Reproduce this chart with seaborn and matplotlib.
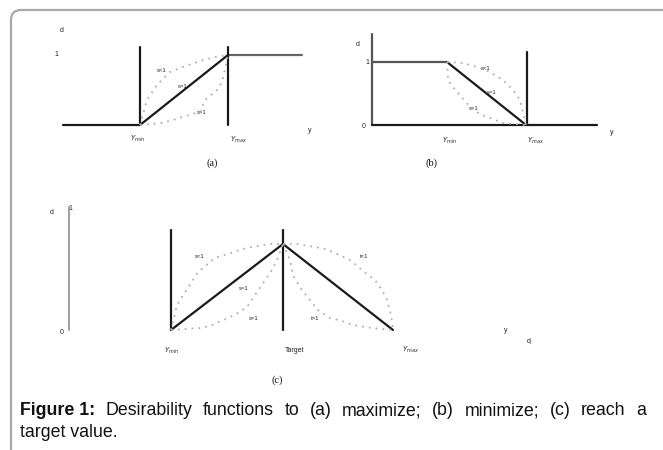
import matplotlib
matplotlib.use("Agg")
import matplotlib.pyplot as plt
from matplotlib.patches import FancyBboxPatch
import seaborn as sns

# ---- desirability curves: response value y, desirability d ----
# (a) maximize
a_low_x, a_low_d = [0.0, 3.5], [0.0, 0.0]
a_lin_x, a_lin_d = [3.5, 7.5], [0.0, 1.0]
a_top_x, a_top_d = [7.5, 10.86], [1.0, 1.0]
a_bounds = [3.5, 7.5]
a_conc_x = [3.5, 3.82, 4.27, 4.86, 5.45, 6.23, 6.91, 7.5]
a_conc_d = [0.0, 0.357, 0.571, 0.757, 0.829, 0.914, 0.971, 1.0]
a_conv_x = [3.5, 4.5, 5.0, 5.41, 6.23, 6.45, 7.0, 7.23, 7.5]
a_conv_d = [0.0, 0.029, 0.071, 0.114, 0.186, 0.357, 0.5, 0.614, 1.0]

# (b) minimize
b_top_x, b_top_d = [0.0, 3.75], [1.0, 1.0]
b_lin_x, b_lin_d = [3.75, 7.7], [1.0, 0.0]
b_axis_x = [0.0, 11.25]
b_bound = 7.75
b_conc_x = [3.75, 4.55, 5.25, 5.9, 6.55, 7.05, 7.4, 7.55, 7.7]
b_conc_d = [1.0, 0.984, 0.921, 0.841, 0.714, 0.556, 0.397, 0.19, 0.0]
b_conv_x = [3.75, 3.8, 4.0, 5.0, 5.5, 6.55, 7.7]
b_conv_d = [1.0, 0.714, 0.619, 0.254, 0.159, 0.032, 0.0]

# (c) target value
c_left_x, c_left_d = [0.0, 5.6], [0.0, 1.0]
c_right_x, c_right_d = [5.6, 11.1], [1.0, 0.0]
c_bounds = [0.0, 5.6]
c_lu_x = [0.0, 0.3, 0.55, 1.1, 1.35, 2.2, 3.6, 4.05, 4.95, 5.6]
c_lu_d = [0.0, 0.291, 0.384, 0.581, 0.674, 0.837, 0.942, 0.965, 1.0, 1.0]
c_ll_x = [0.0, 1.45, 1.95, 2.95, 3.35, 3.8, 4.1, 5.05, 5.3, 5.6]
c_ll_d = [0.0, 0.023, 0.047, 0.151, 0.198, 0.267, 0.372, 0.698, 0.814, 1.0]
c_ru_x = [5.6, 6.3, 7.2, 7.7, 8.3, 8.95, 9.85, 10.2, 10.55, 10.8, 11.0, 11.1]
c_ru_d = [1.0, 1.0, 0.965, 0.942, 0.884, 0.814, 0.640, 0.581, 0.465, 0.349, 0.174, 0.0]
c_rl_x = [5.6, 5.95, 6.1, 6.3, 6.55, 6.95, 7.35, 7.95, 8.55, 8.8, 9.35, 10.05, 11.1]
c_rl_d = [1.0, 0.814, 0.640, 0.558, 0.465, 0.349, 0.233, 0.140, 0.105, 0.081, 0.047, 0.023, 0.0]
c_scale_x = -5.1

sns.set_theme(style="white")
plt.rcParams["font.family"] = ["Liberation Sans", "DejaVu Sans"]

W, H = 663, 450
fig = plt.figure(figsize=(W / 100, H / 100), dpi=100)

# full-figure canvas in pixel units for frame and text
bg = fig.add_axes([0, 0, 1, 1])
bg.set_xlim(0, W)
bg.set_ylim(H, 0)
bg.axis("off")
bg.add_patch(FancyBboxPatch((11, 10), 720, 520,
                            boxstyle="round,pad=0,rounding_size=10",
                            ec="#a9a9a9", fc="none", lw=1.6))

def panel(origin, px_x, px_d, xlim, ylim):
    ox, oy = origin
    left = ox + px_x * xlim[0]
    right = ox + px_x * xlim[1]
    bottom = oy - px_d * ylim[0]
    top = oy - px_d * ylim[1]
    ax = fig.add_axes([left / W, 1 - bottom / H, (right - left) / W, (bottom - top) / H])
    ax.set_xlim(xlim)
    ax.set_ylim(ylim)
    ax.axis("off")
    return ax

SOLID = dict(color="#1a1a1a", linewidth=1.6, sort=False, estimator=None, clip_on=False)
DOTS = dict(color="#b0b0b0", linewidth=1.3, linestyle=(0, (1, 2.8)), sort=False,
            estimator=None, clip_on=False)

def solid(ax, x, y, **kw):
    p = dict(SOLID); p.update(kw)
    sns.lineplot(x=x, y=y, ax=ax, **p)

def dots(ax, x, y):
    sns.lineplot(x=x, y=y, ax=ax, **DOTS)

# (a)
ax_a = panel((63, 125), 22, 70, (0, 10.86), (0, 1.12))
solid(ax_a, a_low_x, a_low_d)
solid(ax_a, a_lin_x, a_lin_d)
solid(ax_a, a_top_x, a_top_d, color="#666666")
for b in a_bounds:
    solid(ax_a, [b, b], [0, 1.12])
dots(ax_a, a_conc_x, a_conc_d)
dots(ax_a, a_conv_x, a_conv_d)

# (b)
ax_b = panel((372, 125), 20, 63, (0, 11.25), (0, 1.44))
solid(ax_b, [0, 0], [0, 1.44], color="#555555")
solid(ax_b, b_axis_x, [0, 0])
solid(ax_b, b_top_x, b_top_d, color="#555555")
solid(ax_b, b_lin_x, b_lin_d)
solid(ax_b, [b_bound, b_bound], [0, 1.16])
dots(ax_b, b_conc_x, b_conc_d)
dots(ax_b, b_conv_x, b_conv_d)

# (c)
ax_c = panel((171, 330), 20, 86, (-5.5, 11.1), (0, 1.45))
solid(ax_c, [c_scale_x, c_scale_x], [0, 1.43], color="#a0a0a0", linewidth=1.4)
solid(ax_c, c_left_x, c_left_d)
solid(ax_c, c_right_x, c_right_d)
for b in c_bounds:
    solid(ax_c, [b, b], [0, 1.163])
dots(ax_c, c_lu_x, c_lu_d)
dots(ax_c, c_ll_x, c_ll_d)
dots(ax_c, c_ru_x, c_ru_d)
dots(ax_c, c_rl_x, c_rl_d)

for ax in (ax_a, ax_b, ax_c):
    leg = ax.get_legend()
    if leg:
        leg.remove()

# small axis annotations
def lab(x, y, s, size=5, **kw):
    bg.text(x, y, s, fontsize=size, color="#222222", ha="center", va="center", **kw)

lab(62, 31, "d")
lab(56, 55, "1")
lab(138, 139, "$Y_{min}$")
lab(238, 140, "$Y_{max}$")
lab(310, 131, "y")
lab(162, 70, "s<1", size=4.2)
lab(183, 86, "s=1", size=4.2)
lab(202, 112, "s>1", size=4.2)

lab(358, 45, "d")
lab(367, 63, "1")
lab(364, 126, "0")
lab(450, 141, "$Y_{min}$")
lab(535, 141, "$Y_{max}$")
lab(612, 133, "y")
lab(486, 68, "s<1", size=4.2)
lab(492, 93, "s=1", size=4.2)
lab(474, 109, "s>1", size=4.2)

lab(52, 212, "d")
lab(70, 208, "1")
lab(62, 333, "0")
lab(172, 351, "$Y_{min}$")
lab(295, 350, "Target")
lab(410, 350, "$Y_{max}$")
lab(506, 331, "y")
lab(530, 342, "d$_i$")
lab(200, 257, "s<1", size=4.2)
lab(244, 288, "s=1", size=4.2)
lab(254, 318, "s>1", size=4.2)
lab(364, 257, "t<1", size=4.2)
lab(315, 319, "t>1", size=4.2)

# sub-figure labels
for x, s in [(212, "(a)"), (432, "(b)"), (277, "(c)")]:
    y = 380 if s == "(c)" else 163
    bg.text(x, y, s, fontsize=7.5, family="Liberation Serif", ha="center", va="center",
            color="#111111")

# caption, first line justified between the frame margins
CAP = 12.8
renderer = fig.canvas.get_renderer()
words = [("Figure 1:", "bold")] + [(w, "normal") for w in
         "Desirability functions to (a) maximize; (b) minimize; (c) reach a".split()]
arts = [bg.text(0, 415, w, fontsize=CAP, fontweight=fw, ha="left", va="baseline",
                color="#111111") for w, fw in words]
inv = bg.transData.inverted()
widths = []
for t in arts:
    bb = t.get_window_extent(renderer=renderer)
    x0 = inv.transform((bb.x0, bb.y0))[0]
    x1 = inv.transform((bb.x1, bb.y0))[0]
    widths.append(x1 - x0)
x_left, x_right = 20, 646
gap = (x_right - x_left - sum(widths)) / (len(arts) - 1)
x = x_left
for t, w in zip(arts, widths):
    t.set_x(x)
    x += w + gap
bg.text(20, 437, "target value.", fontsize=CAP, ha="left", va="baseline", color="#111111")

fig.savefig("out.png", dpi=100)
